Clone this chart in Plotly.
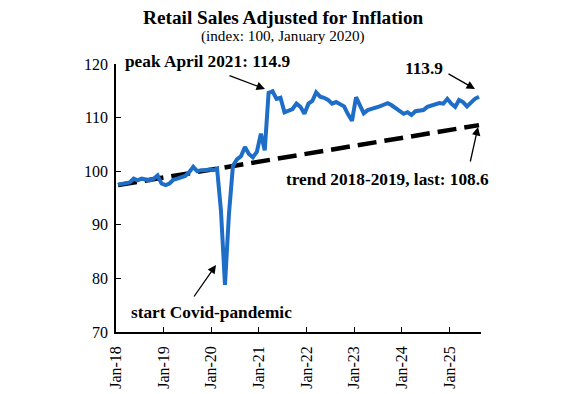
import plotly.graph_objects as go
import pandas as pd

# ---- data (index: 100 = January 2020) ----
start_month = "2018-01-01"
retail_sales = [
    # 2018
    97.5, 97.6, 97.7, 97.9, 98.6, 98.3, 98.6, 98.5, 98.3, 98.6, 99.2, 97.7,
    # 2019
    97.4, 97.7, 98.4, 98.6, 98.9, 99.1, 99.8, 100.8, 100.0, 100.2, 100.2, 100.3,
    # 2020
    100.2, 100.5, 92.5, 78.8, 92.0, 101.0, 102.2, 102.8, 104.5, 103.2, 102.6, 103.6,
    # 2021
    107.0, 103.9, 114.6, 114.9, 113.5, 113.7, 111.0, 111.3, 111.6, 112.6, 112.0, 110.7,
    # 2022
    112.6, 113.1, 114.7, 113.9, 113.7, 113.3, 112.6, 112.9, 112.4, 112.1, 110.6, 109.4,
    # 2023
    113.8, 112.3, 110.8, 111.4, 111.7, 111.9, 112.1, 112.4, 112.7, 112.3, 111.8, 111.3,
    # 2024
    110.7, 111.0, 110.5, 111.2, 111.3, 111.4, 112.0, 112.3, 112.5, 112.7, 112.6, 113.5,
    # 2025
    112.6, 112.0, 113.3, 112.9, 112.1, 112.9, 113.5, 113.9,
]
months = pd.date_range(start_month, periods=len(retail_sales), freq="MS")

trend_months = [months[0], months[-1]]
trend_values = [97.4, 108.6]

tick_dates = pd.date_range("2018-01-01", "2025-01-01", freq="YS")
tick_labels = [d.strftime("%b-%y") for d in tick_dates]

y_ticks = [70, 80, 90, 100, 110, 120]

FONT = "Liberation Serif, Times New Roman, serif"
W, H = 567, 394
L, R, T, B = 116, 481, 64, 332


def px(x):
    return (x - L) / (R - L)


def py(y):
    return (B - y) / (B - T)


fig = go.Figure()
fig.add_trace(go.Scatter(
    x=trend_months, y=trend_values, mode="lines",
    xperiod="M1", xperiodalignment="middle",
    line=dict(color="black", width=4.5, dash="19px,8px"),
    hoverinfo="skip", showlegend=False,
))
fig.add_trace(go.Scatter(
    x=months, y=retail_sales, mode="lines",
    xperiod="M1", xperiodalignment="middle",
    line=dict(color="#1E6EC8", width=4),
    showlegend=False,
))

ann = []
titles = [
    ("<b>Retail Sales Adjusted for Inflation</b>", 283, 17, 19.3),
    ("(index: 100, January 2020)", 283, 36, 15.2),
]
for t, x, y, s in titles:
    ann.append(dict(text=t, xref="paper", yref="paper",
                    x=px(x), y=py(y), xanchor="center", yanchor="middle",
                    showarrow=False, font=dict(family=FONT, color="black", size=s)))

labels = [
    ("<b>peak April 2021: 114.9</b>", 208, 61),
    ("<b>113.9</b>", 424, 68),
    ("<b>trend 2018-2019, last: 108.6</b>", 387, 179),
    ("<b>start Covid-pandemic</b>", 211, 312),
]
for t, x, y in labels:
    ann.append(dict(text=t, xref="paper", yref="paper", x=px(x), y=py(y),
                    xanchor="center", yanchor="middle", showarrow=False,
                    font=dict(family=FONT, size=17.3, color="black")))

arrows = [
    ((228, 75), (265, 89)),
    ((447, 73), (475, 89)),
    ((470, 163), (478, 127)),
    ((193, 298), (216, 265)),
]
for (tx, ty), (hx, hy) in arrows:
    ann.append(dict(text="", xref="paper", yref="paper", x=px(hx), y=py(hy),
                    axref="pixel", ayref="pixel", ax=tx - hx, ay=ty - hy,
                    showarrow=True, arrowhead=2, arrowsize=1.3, arrowwidth=1.3,
                    arrowcolor="black", standoff=0, startstandoff=0))

fig.update_layout(
    width=W, height=H,
    margin=dict(l=L, r=W - R, t=T, b=H - B),
    paper_bgcolor="white", plot_bgcolor="white",
    font=dict(family=FONT, color="black"),
    annotations=ann,
    xaxis=dict(
        type="date", range=["2018-01-01", "2025-09-01"],
        tickvals=tick_dates, ticktext=tick_labels, tickangle=-90,
        ticks="inside", ticklen=5, tickcolor="black", tickwidth=1,
        ticklabelstandoff=6, automargin=False,
        showline=True, linecolor="black", linewidth=1.5,
        showgrid=False, zeroline=False,
        tickfont=dict(family=FONT, size=16, color="black"),
    ),
    yaxis=dict(
        range=[70, 120], tickvals=y_ticks,
        ticks="inside", ticklen=5, tickcolor="black", tickwidth=1,
        ticklabelstandoff=3, automargin=False,
        showline=True, linecolor="black", linewidth=1.5,
        showgrid=False, zeroline=False,
        tickfont=dict(family=FONT, size=16, color="black"),
    ),
)

fig.write_html("out.html", config={"displayModeBar": False},
               post_script="document.body.style.margin='0';document.body.style.overflow='hidden';")
